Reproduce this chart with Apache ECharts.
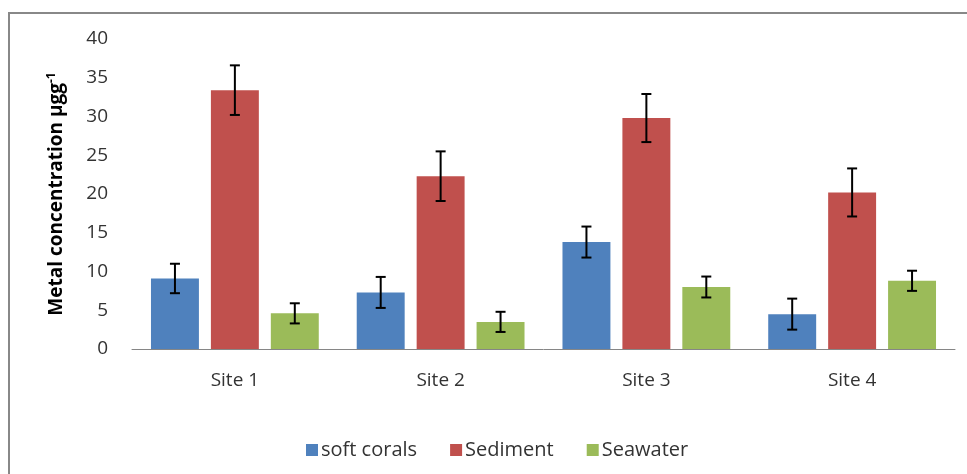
<!DOCTYPE html>
<html>
<head>
<meta charset="utf-8">
<script src="https://cdn.jsdelivr.net/npm/echarts@6/dist/echarts.min.js"></script>
<style>
  html, body { margin: 0; padding: 0; background: #fff; }
  #main { width: 967px; height: 474px; }
</style>
</head>
<body>
<div id="main"></div>
<script>
// data
var sites = ['Site 1', 'Site 2', 'Site 3', 'Site 4'];
var softCorals = [9.1, 7.3, 13.8, 4.5];
var sediment = [33.4, 22.3, 29.8, 20.2];
var seawater = [4.6, 3.5, 8.0, 8.8];
// +/- error values
var softCoralsErr = [1.9, 2.0, 2.0, 2.0];
var sedimentErr = [3.2, 3.2, 3.1, 3.1];
var seawaterErr = [1.3, 1.3, 1.35, 1.3];
var yTicks = [0, 5, 10, 15, 20, 25, 30, 35, 40];

var colors = ['#4F81BD', '#C0504D', '#9BBB59'];
var BAR_W = 0.233;   // share of category band
var BAR_GAP = 0.25;  // share of bar width

var myChart = echarts.init(document.getElementById('main'));

function errSeries(values, errs, idx) {
  var data = values.map(function (v, i) { return [i, v, errs[i]]; });
  return {
    type: 'custom',
    name: 'err' + idx,
    silent: true,
    z: 10,
    renderItem: function (params, api) {
      var band = api.size([1, 0])[0];
      var bw = band * BAR_W;
      var offset = (idx - 1) * bw * (1 + BAR_GAP);
      var i = api.value(0), v = api.value(1), e = api.value(2);
      var top = api.coord([i, v + e]);
      var bot = api.coord([i, v - e]);
      var x = top[0] + offset;
      var cap = 5;
      var st = { stroke: '#000', lineWidth: 2 };
      return {
        type: 'group',
        children: [
          { type: 'line', shape: { x1: x, y1: top[1], x2: x, y2: bot[1] }, style: st },
          { type: 'line', shape: { x1: x - cap, y1: top[1], x2: x + cap, y2: top[1] }, style: st },
          { type: 'line', shape: { x1: x - cap, y1: bot[1], x2: x + cap, y2: bot[1] }, style: st }
        ]
      };
    },
    data: data
  };
}

var font = '"Open Sans", Lato, sans-serif';

myChart.setOption({
  animation: false,
  textStyle: { fontFamily: font },
  graphic: [
    { type: 'line', shape: { x1: 8, y1: 13, x2: 967, y2: 13 }, style: { stroke: '#888', lineWidth: 2 } },
    { type: 'line', shape: { x1: 9, y1: 13, x2: 9, y2: 474 }, style: { stroke: '#888', lineWidth: 2 } }
  ],
  grid: { left: 132, right: 12, top: 39, bottom: 125 },
  legend: {
    left: 301,
    top: 435,
    itemWidth: 12,
    itemHeight: 12,
    itemGap: 33,
    icon: 'rect',
    data: ['soft corals', 'Sediment', 'Seawater'],
    textStyle: { fontFamily: font, fontSize: 20, color: '#333', padding: [0, 0, 0, -2] }
  },
  xAxis: {
    type: 'category',
    data: sites,
    axisLine: { lineStyle: { color: '#868686', width: 1 } },
    axisTick: { show: false },
    axisLabel: { fontFamily: font, fontSize: 19, color: '#333', margin: 22 }
  },
  yAxis: {
    type: 'value',
    min: yTicks[0],
    max: yTicks[yTicks.length - 1],
    interval: 5,
    splitLine: { show: false },
    axisLine: { show: false },
    axisTick: { show: false },
    axisLabel: { fontFamily: font, fontSize: 19, color: '#333', margin: 24 },
    name: 'Metal concentration μgg{sup|-1}',
    nameLocation: 'middle',
    nameGap: 64,
    nameTextStyle: {
      fontFamily: font, fontSize: 19, fontWeight: 'bold', color: '#000',
      rich: { sup: { fontFamily: font, fontSize: 12, fontWeight: 'bold', color: '#000', verticalAlign: 'top', padding: [0, 0, 10, 0] } }
    }
  },
  series: [
    { name: 'soft corals', type: 'bar', data: softCorals, barWidth: (BAR_W * 100) + '%', barGap: (BAR_GAP * 100) + '%', itemStyle: { color: colors[0] } },
    { name: 'Sediment', type: 'bar', data: sediment, barWidth: (BAR_W * 100) + '%', barGap: (BAR_GAP * 100) + '%', itemStyle: { color: colors[1] } },
    { name: 'Seawater', type: 'bar', data: seawater, barWidth: (BAR_W * 100) + '%', barGap: (BAR_GAP * 100) + '%', itemStyle: { color: colors[2] } },
    errSeries(softCorals, softCoralsErr, 0),
    errSeries(sediment, sedimentErr, 1),
    errSeries(seawater, seawaterErr, 2)
  ]
});

window.onresize = function () {
  myChart.resize();
};
</script>
</body>
</html>
